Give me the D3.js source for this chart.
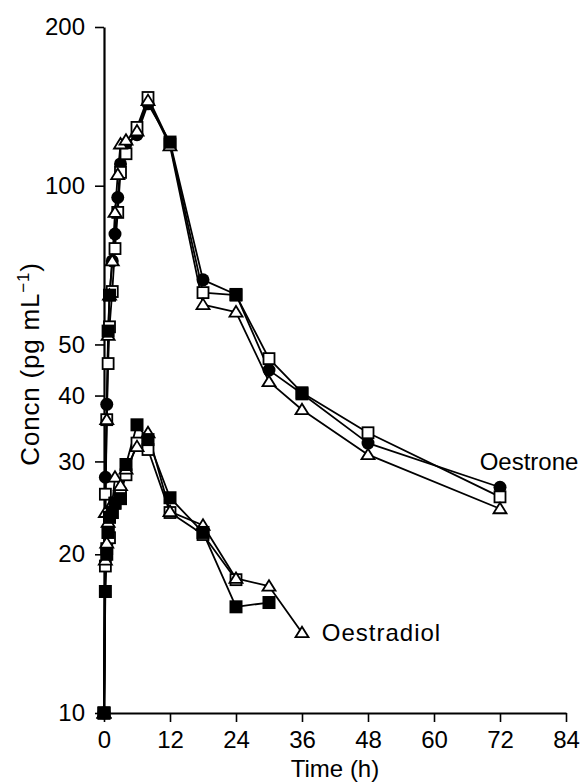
<!DOCTYPE html>
<html>
<head>
<meta charset="utf-8">
<script src="https://cdn.jsdelivr.net/npm/d3@7"></script>
<style>
  body { margin: 0; background: #fff; }
  text { font-family: "Liberation Sans", Arial, sans-serif; fill: #000; }
</style>
</head>
<body>
<div id="chart"></div>
<script>
// sampling times (h)
var oestroneTimes = [0, 0.25, 0.5, 0.75, 1, 1.5, 2, 2.5, 3, 4, 6, 8, 12, 18, 24, 30, 36, 48, 72];
var oestradiolTimes = [0, 0.25, 0.5, 0.75, 1, 1.5, 2, 3, 4, 6, 8, 12, 18, 24, 30, 36];

// oestrone (pg/mL)
var oestroneFilled = [10, 28, 38.5, 53, 62, 72, 81, 95, 110, 120, 125, 143, 121, 66.3, 62.2, 44.7, 40.3, 32.5, 26.8];
var oestroneFilledSquareAt = [0.75, 1, 12, 24, 36];
var oestroneOpenSquare = [10, 26, 36, 46, 54, 63, 76, 89, 106, 115, 129, 147, 120, 62.7, 62, 47, 40.5, 34, 25.7];
var oestroneTriangle = [10, 24, 36, 52, 62, 72, 89, 105, 120, 122, 127, 145, 119, 59.5, 57.6, 42.5, 37.6, 30.9, 24.4];

// oestradiol (pg/mL)
var oestradiolFilledSquare = [10, 17, 20, 22, 23.5, 24, 25, 25.5, 29.6, 35.2, 33, 25.6, 22, 15.9, 16.2];
var oestradiolOpenSquare = [10, 19, 20.5, 22, 21.5, 24, 25, 26, 28.3, 32.5, 31.6, 24, 21.8, 17.9];
var oestradiolTriangle = [10, 19.5, 21, 23, 24, 25, 28, 27, 29, 32, 34, 24.1, 22.7, 18, 17.4, 14.2];

var xTicks = [0, 12, 24, 36, 48, 60, 72, 84];
var yTicks = [10, 20, 30, 40, 50, 100, 200];

var W = 582, H = 782;
var margin = {top: 27, right: 16, bottom: 69, left: 104};

var svg = d3.select("#chart").append("svg")
    .attr("width", W)
    .attr("height", H);

var x = d3.scaleLinear().domain([0, 84]).range([margin.left, W - margin.right]);
var y = d3.scaleLog().domain([10, 200]).range([H - margin.bottom, margin.top]);

function pts(times, vals) {
    return vals.map(function(v, i) { return {t: times[i], v: v}; });
}

var series = [
    {data: pts(oestroneTimes, oestroneFilled), mark: "filled", squareAt: oestroneFilledSquareAt},
    {data: pts(oestroneTimes, oestroneOpenSquare), mark: "openSquare"},
    {data: pts(oestroneTimes, oestroneTriangle), mark: "triangle"},
    {data: pts(oestradiolTimes, oestradiolFilledSquare), mark: "filledSquare"},
    {data: pts(oestradiolTimes, oestradiolOpenSquare), mark: "openSquare"},
    {data: pts(oestradiolTimes, oestradiolTriangle), mark: "triangle"}
];

// axes
var xAxis = d3.axisBottom(x).tickValues(xTicks).tickSize(9).tickPadding(9).tickSizeOuter(0);
var yAxis = d3.axisLeft(y).tickValues(yTicks).tickFormat(d3.format("d"))
    .tickSize(9).tickPadding(10).tickSizeOuter(0);

var gx = svg.append("g")
    .attr("transform", "translate(0," + (H - margin.bottom) + ")")
    .call(xAxis);
var gy = svg.append("g")
    .attr("transform", "translate(" + margin.left + ",0)")
    .call(yAxis);

[gx, gy].forEach(function(g) {
    g.select(".domain").attr("stroke", "#000").attr("stroke-width", 2.2);
    g.selectAll(".tick line").attr("stroke", "#000").attr("stroke-width", 1.6);
    g.selectAll(".tick text").attr("font-size", 24)
        .style("font-family", "'Liberation Sans', Arial, sans-serif").attr("fill", "#000");
});

svg.append("text")
    .attr("x", x(42))
    .attr("y", 777)
    .attr("text-anchor", "middle")
    .attr("font-size", 24)
    .text("Time (h)");

var yl = svg.append("text")
    .attr("transform", "translate(39,364) rotate(-90)")
    .attr("text-anchor", "middle")
    .attr("font-size", 26)
    .attr("letter-spacing", 0.8);
yl.append("tspan").text("Concn (pg mL");
yl.append("tspan").attr("font-size", 17).attr("dy", -10).text("\u22121");
yl.append("tspan").attr("dy", 10).text(")");

// lines
var line = d3.line()
    .x(function(d) { return x(d.t); })
    .y(function(d) { return y(d.v); });

var plot = svg.append("g");

series.forEach(function(s) {
    plot.append("path")
        .datum(s.data)
        .attr("d", line)
        .attr("fill", "none")
        .attr("stroke", "#000")
        .attr("stroke-width", 1.8)
        .attr("stroke-linejoin", "round");
});

// markers: circles first, open symbols over them, filled squares on top
function drawMark(g, kind, cx, cy) {
    if (kind === "circle") {
        g.append("circle").attr("cx", cx).attr("cy", cy).attr("r", 6.5).attr("fill", "#000");
    } else if (kind === "filledSquare") {
        g.append("rect").attr("x", cx - 6.5).attr("y", cy - 6.5)
            .attr("width", 13).attr("height", 13).attr("fill", "#000");
    } else if (kind === "openSquare") {
        g.append("rect").attr("x", cx - 5.5).attr("y", cy - 5.5)
            .attr("width", 11).attr("height", 11)
            .attr("fill", "#fff").attr("stroke", "#000").attr("stroke-width", 1.8);
    } else {
        g.append("path")
            .attr("d", "M" + cx + "," + (cy - 6) + "L" + (cx + 6.5) + "," + (cy + 4.5) +
                "L" + (cx - 6.5) + "," + (cy + 4.5) + "Z")
            .attr("fill", "#fff").attr("stroke", "#000").attr("stroke-width", 1.8);
    }
}

var layers = ["circle", "openSquare", "triangle", "filledSquare"];
layers.forEach(function(kind) {
    var g = plot.append("g");
    series.forEach(function(s) {
        s.data.forEach(function(d) {
            var k = s.mark;
            if (k === "filled") k = s.squareAt.indexOf(d.t) < 0 ? "circle" : "filledSquare";
            if (k === kind) drawMark(g, kind, x(d.t), y(d.v));
        });
    });
});

// curve labels
svg.append("text")
    .attr("x", x(68.3))
    .attr("y", y(26.8) - 17)
    .attr("font-size", 24)
    .text("Oestrone");

svg.append("text")
    .attr("x", x(39.6))
    .attr("y", y(14.2) + 8)
    .attr("font-size", 24)
    .attr("letter-spacing", 1)
    .text("Oestradiol");
</script>
</body>
</html>
